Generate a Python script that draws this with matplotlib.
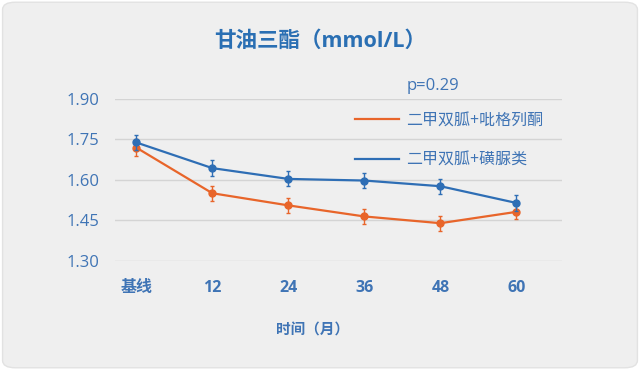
import numpy as np
import matplotlib.pyplot as plt
from matplotlib.lines import Line2D
from matplotlib.patches import FancyBboxPatch

plt.rcParams['font.family'] = ['Open Sans', 'Noto Sans CJK SC', 'DejaVu Sans']

months = ['基线', '12', '24', '36', '48', '60']
pio = [1.720, 1.551, 1.506, 1.465, 1.440, 1.482]
pio_err = [0.03, 0.028, 0.028, 0.028, 0.028, 0.028]
su = [1.739, 1.644, 1.604, 1.598, 1.577, 1.515]
su_err = [0.028, 0.03, 0.028, 0.028, 0.028, 0.028]
yticks = [1.30, 1.45, 1.60, 1.75, 1.90]

orange = '#e8652a'
blue = '#2e6eb5'
txt = '#3f74b5'

fig = plt.figure(figsize=(6.4, 3.7), dpi=100)
fig.patch.set_facecolor('white')
bg = FancyBboxPatch((0.004, 0.006), 0.992, 0.988, boxstyle='round,pad=0,rounding_size=0.02',
                    transform=fig.transFigure, facecolor='#efefef', edgecolor='#e2e2e2',
                    linewidth=1, zorder=-10)
fig.patches.append(bg)

ax = fig.add_axes([115 / 640, (370 - 261) / 370, (562 - 115) / 640, (261 - 99) / 370])
ax.set_facecolor('none')
x = np.arange(len(months))

ax.errorbar(x, pio, yerr=pio_err, color=orange, lw=1.6, marker='o', ms=5,
            elinewidth=1, capsize=1.5, capthick=1, zorder=3)
ax.errorbar(x, su, yerr=su_err, color=blue, lw=1.6, marker='o', ms=5,
            elinewidth=1, capsize=1.5, capthick=1, zorder=4)

ax.set_xlim(-0.28, 5.6)
ax.set_ylim(1.30, 1.90)
ax.set_yticks(yticks)
ax.set_yticklabels([f'{v:.2f}' for v in yticks])
ax.set_xticks(x)
ax.set_xticklabels(months, fontweight='bold')
ax.grid(axis='y', color='#d4d4d4', lw=1)
ax.set_axisbelow(True)
for s in ax.spines.values():
    s.set_visible(False)
ax.tick_params(length=0, colors=txt)
ax.tick_params(axis='y', pad=11, labelsize=12)
ax.tick_params(axis='x', pad=14, labelsize=11.5)
ax.set_xlabel('时间（月）', color=txt, fontsize=10.5, fontweight='bold')
ax.xaxis.set_label_coords((313 - 115) / (562 - 115), -0.385)

fig.text(0.5, 0.888, '甘油三酯（mmol/L）', ha='center', va='center', color='#2a6fb3',
         fontsize=15.5, fontweight='bold')
fig.text(407 / 640, 1 - 86 / 370, 'p=0.29', ha='left', va='center', color=txt, fontsize=12)

handles = [Line2D([], [], color=orange, lw=1.6), Line2D([], [], color=blue, lw=1.6)]
leg = fig.legend(handles, ['二甲双胍+吡格列酮', '二甲双胍+磺脲类'],
                 loc='upper left', bbox_to_anchor=(347 / 640, 1 - 105 / 370),
                 frameon=False, fontsize=11.5, handlelength=2.75, handletextpad=0.45,
                 labelspacing=1.45, borderpad=0)
for t in leg.get_texts():
    t.set_color(txt)

fig.savefig('out.png', dpi=100, facecolor=fig.get_facecolor())
